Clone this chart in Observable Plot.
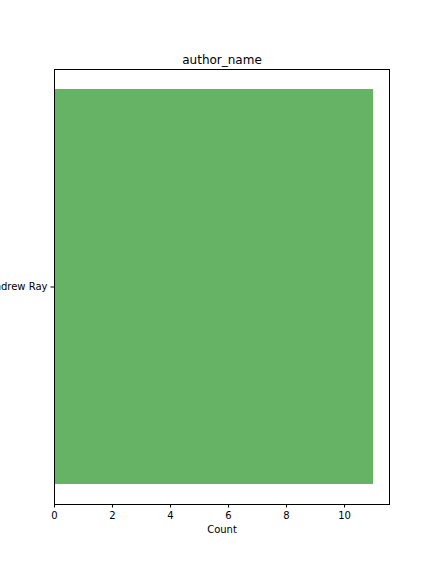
<!DOCTYPE html>
<html>
<head>
<meta charset="utf-8">
<script src="https://cdn.jsdelivr.net/npm/d3@7"></script>
<script src="https://cdn.jsdelivr.net/npm/@observablehq/plot@0.6"></script>
<style>
  html, body { margin: 0; padding: 0; background: white; }
  svg { overflow: hidden; }
</style>
</head>
<body>
<div id="chart"></div>
<script>
const categories = ["Andrew Ray"];
const counts = [11];
const xTicks = [0, 2, 4, 6, 8, 10];
const titleText = "author_name";
const xLabel = "Count";

const data = categories.map((c, i) => ({author: c, count: counts[i]}));

const chart = Plot.plot({
  width: 432,
  height: 576,
  marginLeft: 54,
  marginRight: 43,
  marginTop: 69,
  marginBottom: 72,
  style: {fontFamily: "DejaVu Sans", fontSize: "10px", background: "white", color: "black", overflow: "hidden"},
  x: {domain: [0, 11.55]},
  y: {domain: categories, paddingInner: 0, paddingOuter: 0.05},
  marks: [
    Plot.barX(data, {x: "count", y: "author", fill: "#66b366"}),
    Plot.frame({stroke: "black", strokeWidth: 1}),
    Plot.axisX({ticks: xTicks, tickSize: 3.5, tickPadding: 3.5, stroke: "black", fill: "black",
      label: xLabel, labelAnchor: "center", labelArrow: "none", labelOffset: 28}),
    Plot.axisY({tickSize: 3.5, tickPadding: 3.5, stroke: "black", fill: "black", label: null}),
    Plot.text([titleText], {frameAnchor: "top", lineAnchor: "middle", dy: -9, fontSize: 12, fill: "black"})
  ]
});
document.getElementById("chart").appendChild(chart);
</script>
</body>
</html>
